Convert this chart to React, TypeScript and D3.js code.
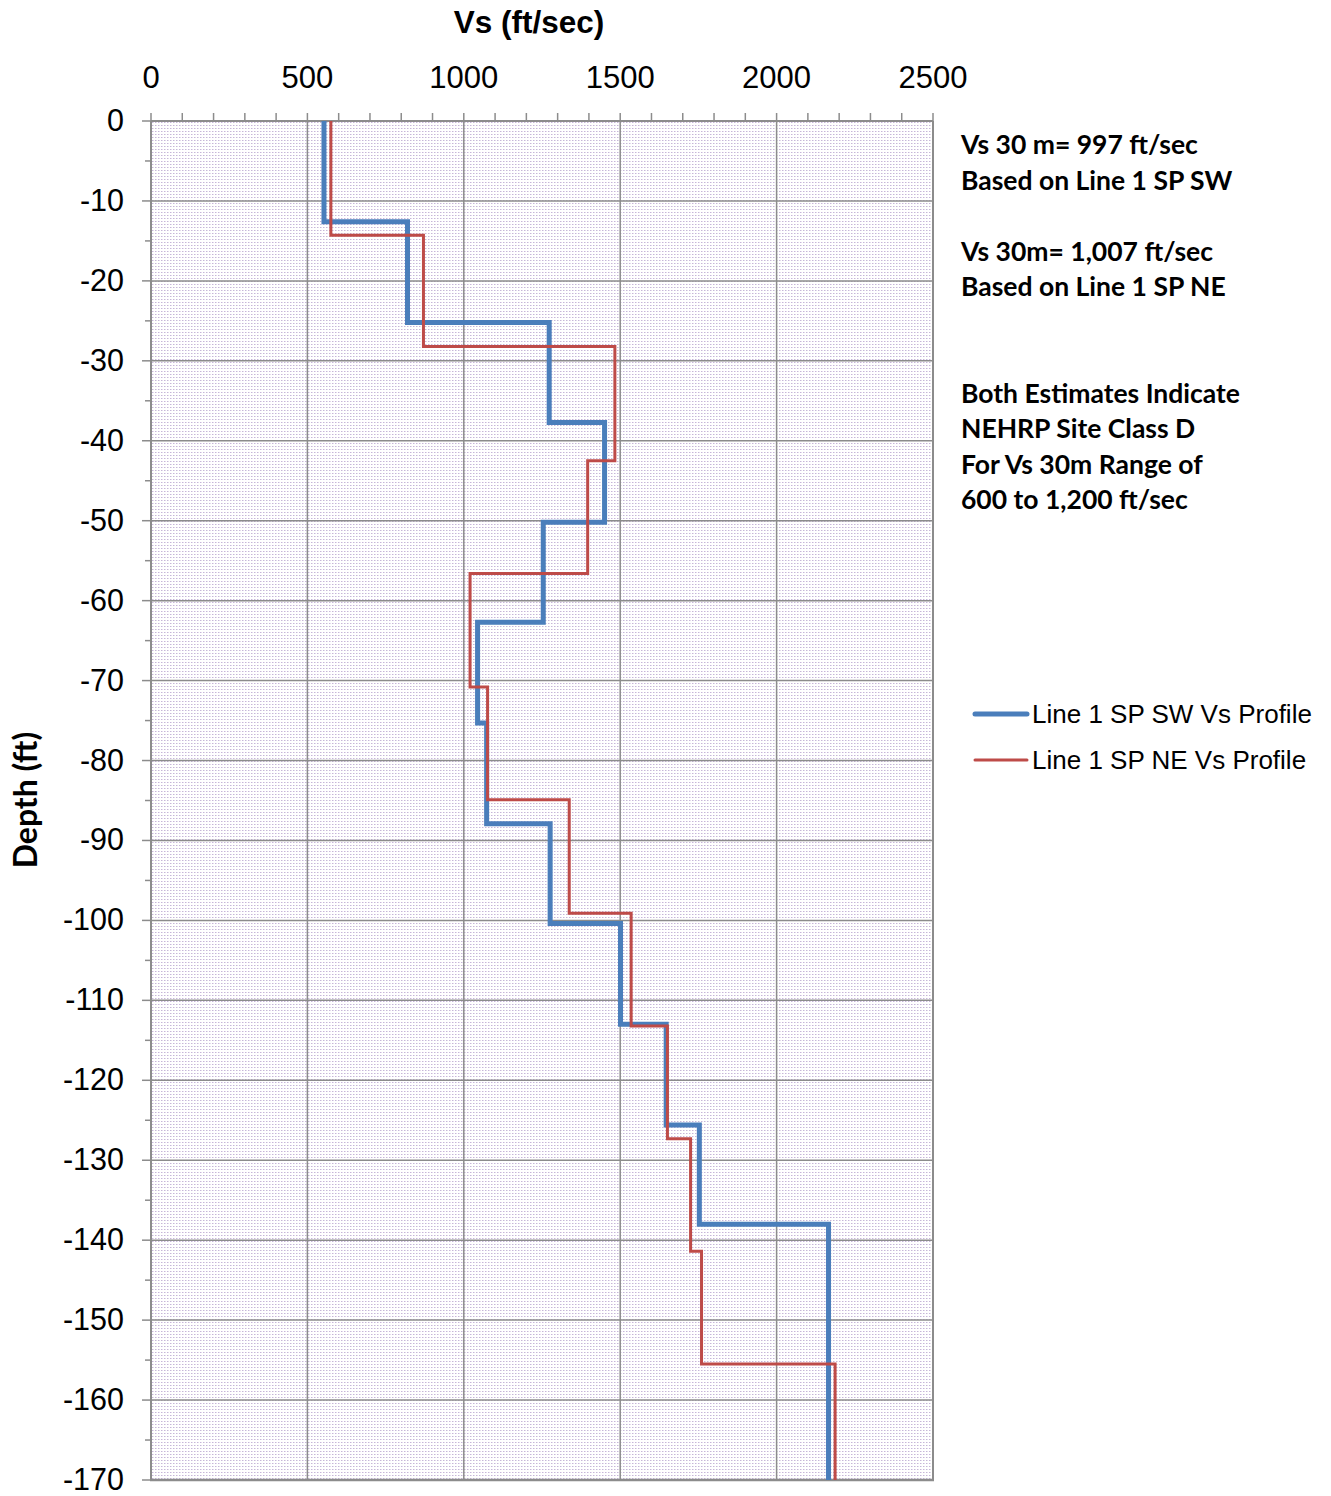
import React from "react";
import * as d3 from "d3";

// SW profile: layer velocities (ft/sec) and layer bottom depths (ft)
const swVelocity = [553, 820, 1273, 1450, 1254, 1044, 1073, 1276, 1501, 1647, 1753, 2166];
const swBottom = [-12.6, -25.2, -37.7, -50.2, -62.7, -75.3, -87.9, -100.4, -113, -125.6, -138, -170];
// NE profile
const neVelocity = [575, 871, 1483, 1396, 1020, 1076, 1337, 1535, 1651, 1725, 1760, 2187];
const neBottom = [-14.3, -28.2, -42.5, -56.6, -70.8, -84.9, -99.1, -113.2, -127.3, -141.4, -155.5, -170];

const xTicks = [0, 500, 1000, 1500, 2000, 2500];
const yTicks = [0, -10, -20, -30, -40, -50, -60, -70, -80, -90, -100, -110, -120, -130, -140, -150, -160, -170];

const seriesNames = ["Line 1 SP SW Vs Profile", "Line 1 SP NE Vs Profile"];
const annotations = [
  "Vs 30 m= 997 ft/sec",
  "Based on Line 1 SP SW",
  "",
  "Vs 30m= 1,007 ft/sec",
  "Based on Line 1 SP NE",
  "",
  "",
  "Both Estimates Indicate",
  "NEHRP Site Class D",
  "For Vs 30m Range of",
  "600 to 1,200 ft/sec",
];

function stepPoints(vel: number[], bottoms: number[]): [number, number][] {
  const pts: [number, number][] = [];
  let top = 0;
  vel.forEach((v, i) => {
    pts.push([v, top]);
    pts.push([v, bottoms[i]]);
    top = bottoms[i];
  });
  return pts;
}

export default function App() {
  const W = 1331, H = 1496;
  const left = 151, right = 933, top = 121, bottom = 1480;
  const x = d3.scaleLinear().domain([0, 2500]).range([left, right]);
  const y = d3.scaleLinear().domain([0, -170]).range([top, bottom]);
  const line = d3.line<[number, number]>().x(d => x(d[0])).y(d => y(d[1]));
  const sw = stepPoints(swVelocity, swBottom);
  const ne = stepPoints(neVelocity, neBottom);
  const minorX = d3.range(0, 2501, 100);
  const minorY = d3.range(0, -171, -5);
  const gridColor = "#8c8c8c";
  const arial = "Arial, 'Liberation Sans', sans-serif";
  const cal = "Lato, 'Open Sans', sans-serif";

  return (
    <svg width={W} height={H} style={{ position: "absolute", left: 0, top: 0 }}>
      <defs>
        <pattern id="dots" width={3} height={3} patternUnits="userSpaceOnUse" x={left} y={top}>
          <rect width={3} height={3} fill="#ffffff" />
          <rect x={1} y={1} width={1} height={1} fill="#c6b6d8" />
          <rect x={2} y={1} width={1} height={1} fill="#e4dcec" />
        </pattern>
      </defs>
      <rect x={0} y={0} width={W} height={H} fill="#fff" />
      <rect x={left} y={top} width={right - left} height={bottom - top} fill="url(#dots)" />
      {/* grid */}
      {xTicks.map(t => (
        <line key={"gx" + t} x1={x(t)} x2={x(t)} y1={top} y2={bottom} stroke={gridColor} strokeWidth={1.5} />
      ))}
      {yTicks.map(t => (
        <line key={"gy" + t} x1={left} x2={right} y1={y(t)} y2={y(t)} stroke={gridColor} strokeWidth={1.5} />
      ))}
      {/* axes */}
      <line x1={left} x2={left} y1={top} y2={bottom} stroke={gridColor} strokeWidth={2} />
      <line x1={left} x2={right} y1={top} y2={top} stroke={gridColor} strokeWidth={2} />
      <line x1={left - 1} x2={right + 1} y1={bottom} y2={bottom} stroke={gridColor} strokeWidth={2.5} />
      <line x1={right} x2={right} y1={top} y2={bottom} stroke={gridColor} strokeWidth={2} />
      {/* top ticks */}
      {minorX.map(t => (
        <line key={"tx" + t} x1={x(t)} x2={x(t)} y1={top} y2={top - 8} stroke={gridColor} strokeWidth={1.5} />
      ))}
      {minorY.map(t => (
        <line key={"ty" + t} x1={left} x2={left - (t % 10 === 0 ? 9 : 6)} y1={y(t)} y2={y(t)} stroke={gridColor} strokeWidth={1.5} />
      ))}
      {/* tick labels */}
      {xTicks.map(t => (
        <text key={"lx" + t} x={x(t)} y={88} textAnchor="middle" fontFamily={arial} fontSize={31} fill="#000">{t}</text>
      ))}
      {yTicks.map(t => (
        <text key={"ly" + t} x={124} y={y(t) + 10} textAnchor="end" fontFamily={arial} fontSize={30.5} fill="#000">{t}</text>
      ))}
      {/* titles */}
      <text x={529} y={33} textAnchor="middle" fontFamily={arial} fontWeight="bold" fontSize={31.5} fill="#000">Vs (ft/sec)</text>
      <text transform={`translate(37,800) rotate(-90)`} textAnchor="middle" fontFamily={cal} fontWeight="bold" fontSize={32} fill="#000">Depth (ft)</text>
      {/* data */}
      <path d={line(sw) || ""} fill="none" stroke="#4a7ebb" strokeWidth={5} strokeLinejoin="miter" />
      <path d={line(ne) || ""} fill="none" stroke="#be4b48" strokeWidth={3} strokeLinejoin="miter" />
      {/* annotations */}
      {annotations.map((s, i) => (
        s ? <text key={"an" + i} x={961} y={154 + i * 35.5} fontFamily={cal} fontWeight="bold" fontSize={26.5} fill="#000">{s}</text> : null
      ))}
      {/* legend */}
      {seriesNames.map((s, i) => (
        <g key={"lg" + i}>
          <line x1={975} x2={1027} y1={714 + i * 46} y2={714 + i * 46} stroke={i === 0 ? "#4a7ebb" : "#be4b48"} strokeWidth={i === 0 ? 5 : 3} strokeLinecap="round" />
          <text x={1032} y={723 + i * 46} fontFamily={arial} fontSize={26} fill="#000">{s}</text>
        </g>
      ))}
    </svg>
  );
}
